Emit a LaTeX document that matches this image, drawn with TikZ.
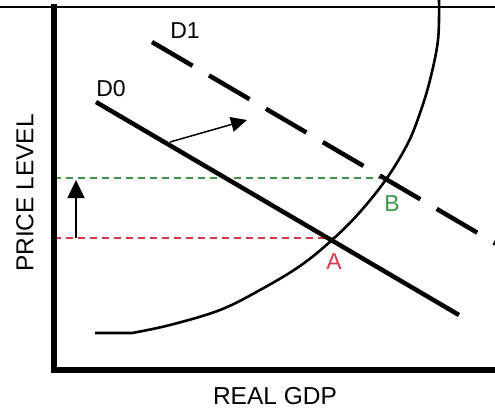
\documentclass[tikz,border=0pt]{standalone}
\usepackage{fontspec}
\setmainfont{Liberation Sans}
\usepackage{tikz}
\usetikzlibrary{arrows.meta}
\definecolor{eqgreen}{RGB}{60,150,70}
\definecolor{eqred}{RGB}{215,55,75}

\begin{document}
\begin{tikzpicture}[
		x=1pt, y=-1pt,
		demand/.style={line width=4.5pt},
		supply/.style={line width=2.6pt},
		guide/.style={line width=1.3pt, dash pattern=on 7pt off 5pt},
		shiftarrow/.style={line width=1.5pt},
		lbl/.style={inner sep=0pt, font=\fontsize{23}{26}\selectfont},
		axlbl/.style={inner sep=0pt, font=\fontsize{24.5}{28}\selectfont}
	]
		\clip (0,0) rectangle (495,413);
		\fill[white] (0,0) rectangle (495,413);

		% equilibrium points
		\coordinate (ptA) at (333,238);
		\coordinate (ptB) at (387,178);

		% guides to the price axis
		\draw[guide, eqred] (54,238) -- (ptA);
		\draw[guide, eqgreen] (54,178) -- (ptB);

		% supply curve
		\draw[supply] (95,333) -- plot[smooth, tension=0.6] coordinates {(132,333) (170,325) (220,310) (260,290) (300,266) (332,240) (360,212) (387,178) (408,143) (420,113) (430,80) (438,40) (439,0)};

		% demand curves
		\coordinate (d0s) at (96,102);
		\coordinate (d0e) at (459,315);
		\draw[demand] (d0s) -- (d0e);
		\coordinate (d1s) at (152,42);
		\coordinate (d1e) at (500,246);
		\draw[demand, dash pattern=on 47pt off 19pt] (d1s) -- (d1e);

		% shift arrows
		\coordinate (shs) at (170,142);
		\coordinate (she) at (247,120);
		\draw[shiftarrow, -{Triangle[length=16pt,width=15pt]}] (shs) -- (she);
		\coordinate (pus) at (76,238);
		\coordinate (pue) at (76,180);
		\draw[shiftarrow, -{Triangle[length=18pt,width=17pt]}] (pus) -- (pue);

		% frame and axes
		\draw[line width=1.5pt] (0,7) -- (495,7);
		\draw[line width=6pt] (54,4) -- (54,370) -- (498,370);

		% labels
		\node[lbl] (lD1) at (185,31) {D1};
		\node[lbl] (lD0) at (111,89) {D0};
		\node[lbl, text=eqgreen] (lB) at (392,204) {B};
		\node[lbl, text=eqred] (lA) at (334,262) {A};
		\node[axlbl, rotate=90] (ylab) at (25,193) {PRICE LEVEL};
		\node[axlbl] (xlab) at (275,396) {REAL GDP};
	\end{tikzpicture}
\end{document}
